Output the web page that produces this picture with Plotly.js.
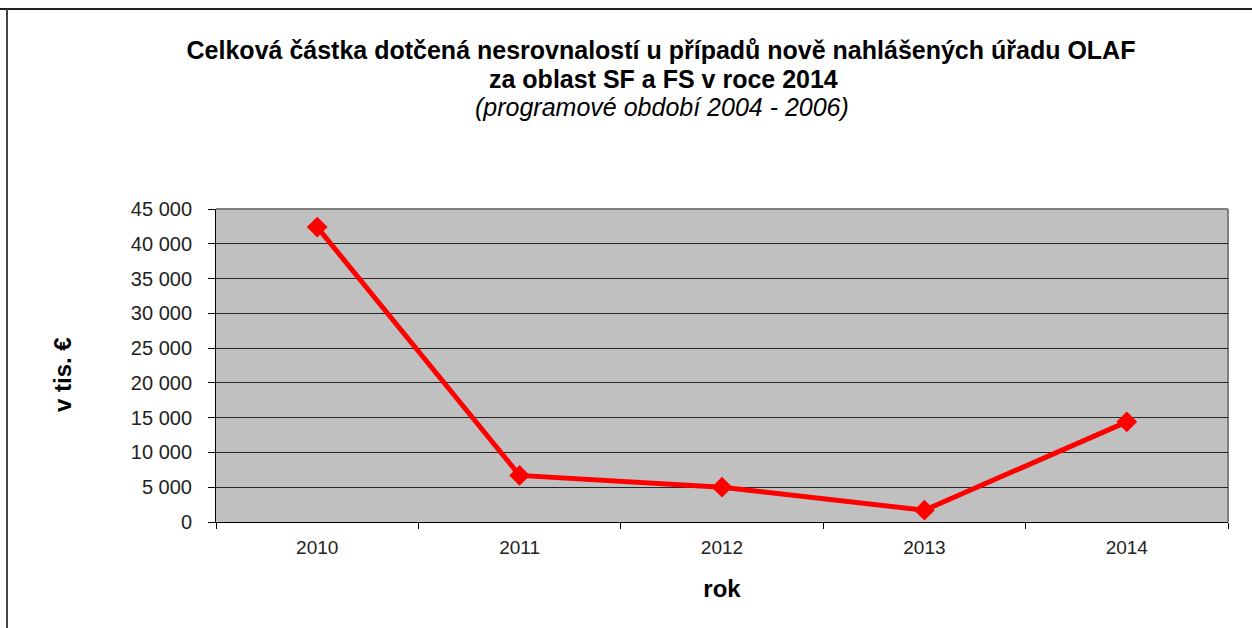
<!DOCTYPE html>
<html>
<head>
<meta charset="utf-8">
<script src="https://cdn.plot.ly/plotly-3.0.1.min.js"></script>
<style>
  html, body { margin: 0; padding: 0; background: #fff; }
  #chart { width: 1252px; height: 628px; }
</style>
</head>
<body>
<div id="chart"></div>
<script>
const years = ['2010', '2011', '2012', '2013', '2014'];
const amounts = [42400, 6700, 5000, 1700, 14400];
const yTicks = [0, 5000, 10000, 15000, 20000, 25000, 30000, 35000, 40000, 45000];

const titleLine1 = 'Celková částka dotčená nesrovnalostí u případů nově nahlášených úřadu OLAF';
const titleLine2 = 'za oblast SF a FS v roce 2014';
const titleLine3 = '(programové období 2004 - 2006)';
const yTitle = 'v tis. €';
const xTitle = 'rok';

const L = 216, R = 1228, T = 209, B = 522, W = 1252, H = 628;
const px = x => (x - L) / (R - L);
const py = y => (B - y) / (B - T);
const FONT = 'Liberation Sans, Arial, sans-serif';

const trace = {
  x: years,
  y: amounts,
  type: 'scatter',
  mode: 'lines+markers',
  line: { color: '#FF0000', width: 5 },
  marker: { symbol: 'diamond', size: 16, color: '#FF0000' },
  hoverinfo: 'x+y'
};

const layout = {
  width: W, height: H,
  margin: { l: L, r: W - R, t: T, b: H - B },
  paper_bgcolor: '#FFFFFF',
  plot_bgcolor: '#C0C0C0',
  showlegend: false,
  separators: ', ',
  font: { family: FONT, color: '#000' },
  title: {
    text: '<b>' + titleLine1 + '</b>',
    font: { family: FONT, size: 25, color: '#000' },
    xref: 'container', yref: 'container',
    x: 661 / W, xanchor: 'center',
    y: 1 - 50 / H, yanchor: 'middle'
  },
  xaxis: {
    type: 'category',
    range: [-0.5, 4.5],
    tickson: 'boundaries',
    ticks: 'outside', ticklen: 6, tickcolor: '#000', tickwidth: 1,
    ticklabelstandoff: 8,
    showline: true, linecolor: '#000', linewidth: 1,
    showgrid: false, zeroline: false,
    tickfont: { size: 19, color: '#222' },
    title: { text: '<b>' + xTitle + '</b>', font: { size: 24, color: '#000' }, standoff: 23 }
  },
  yaxis: {
    range: [0, 45000],
    tickvals: yTicks,
    tickformat: ',d',
    ticks: 'outside', ticklen: 7, tickcolor: '#000', tickwidth: 1,
    ticklabelstandoff: 12,
    showline: true, linecolor: '#000', linewidth: 1,
    showgrid: true, gridcolor: '#262626', gridwidth: 1,
    zeroline: false,
    tickfont: { size: 20, color: '#222' },
    title: { text: '' }
  },
  annotations: [
    {
      text: '<b>' + titleLine2 + '</b>',
      xref: 'paper', yref: 'paper', x: px(663), y: py(79),
      xanchor: 'center', yanchor: 'middle', showarrow: false,
      font: { size: 25, color: '#000' }
    },
    {
      text: '<i>' + titleLine3 + '</i>',
      xref: 'paper', yref: 'paper', x: px(662), y: py(107),
      xanchor: 'center', yanchor: 'middle', showarrow: false,
      font: { size: 25, color: '#000' }
    },
    {
      text: '<b>' + yTitle + '</b>',
      xref: 'paper', yref: 'paper',
      x: px(62), y: py(375),
      xanchor: 'center', yanchor: 'middle',
      textangle: -90,
      showarrow: false,
      font: { size: 24, color: '#000' }
    }
  ],
  shapes: [
    { type: 'line', xref: 'paper', yref: 'paper', x0: px(0), x1: px(W), y0: py(9), y1: py(9), line: { color: '#222', width: 2 } },
    { type: 'line', xref: 'paper', yref: 'paper', x0: px(7), x1: px(7), y0: py(9), y1: py(H), line: { color: '#444', width: 2 } },
    { type: 'line', xref: 'paper', yref: 'paper', x0: 0, x1: 1, y0: 1, y1: 1, line: { color: '#808080', width: 2 }, layer: 'below' },
    { type: 'line', xref: 'paper', yref: 'paper', x0: 1, x1: 1, y0: 0, y1: 1, line: { color: '#808080', width: 2 }, layer: 'below' }
  ]
};

Plotly.newPlot('chart', [trace], layout, { displayModeBar: false, responsive: false });
</script>
</body>
</html>
